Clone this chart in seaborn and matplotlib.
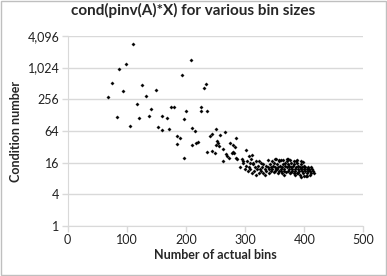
import pandas as pd
import seaborn as sns
import matplotlib.pyplot as plt
from matplotlib.ticker import FixedLocator, FuncFormatter, NullLocator
from matplotlib.patches import Rectangle

# sparse part (small bin counts)
bins_sparse = [68, 75, 83, 87, 94, 99, 106, 110, 117, 121, 126, 133, 137, 141, 149,
               153, 160, 160, 168, 171, 175, 179, 185, 185, 190, 194, 197, 197, 200,
               208, 210, 210, 216, 217, 220, 226, 226, 231, 234, 235, 236, 241, 244,
               244, 249, 250, 251, 252, 254, 256, 258, 263, 263, 266, 267, 269, 272,
               275, 277, 280, 280, 282, 283, 285, 285, 287, 292, 294, 296, 297, 300,
               302, 304, 306, 308, 310, 312, 314, 318, 323]
cond_sparse = [280, 518, 119, 967, 364, 1188, 79, 2850, 212, 112, 480, 297, 125, 166, 391,
               77, 124, 68, 112, 71, 181, 181, 52, 36, 47, 744, 107, 20, 156,
               1450, 72, 35, 63, 37, 39, 186, 156, 427, 495, 25, 152, 51, 55,
               27, 24, 34, 71, 41, 37, 33, 53, 29, 17, 62, 23, 21, 20,
               37, 24, 35, 25, 24, 32, 47, 20, 19, 13, 19, 16, 17, 12,
               28, 17, 21, 16, 19, 22, 16, 17, 17]

# dense part (large bin counts)
bins_dense = [302, 305, 307, 309, 311, 313, 315, 317, 318, 320, 322, 323, 325, 326, 327,
              329, 330, 331, 333, 334, 335, 336, 338, 339, 340, 341, 342, 343, 344, 345,
              346, 347, 348, 349, 350, 351, 352, 353, 354, 355, 356, 357, 358, 359, 360,
              361, 362, 363, 364, 365, 366, 367, 368, 369, 370, 371, 372, 373, 374, 375,
              376, 377, 378, 379, 380, 381, 382, 383, 384, 385, 386, 387, 388, 389, 390,
              391, 392, 393, 394, 395, 396, 397, 398, 399, 400, 401, 402, 403, 404, 405,
              406, 407, 408, 409, 410, 411, 412, 413, 414, 416, 364, 370, 376, 382, 388,
              394, 398, 350, 358, 372, 386, 395, 400, 405, 390, 384, 378, 366, 360, 354]
cond_dense = [14, 11, 13, 12, 10, 15, 11, 13, 9.5, 12, 14, 10, 12, 16, 11,
              13, 10, 15, 12, 9.5, 14, 11, 13, 18, 12, 10, 15, 13, 11, 17,
              12, 14, 10.5, 16, 13, 11, 19, 12, 15, 10, 13, 17, 11, 14, 12,
              18, 10, 13, 15, 11, 12, 16, 14, 10.5, 13, 17, 11, 15, 12, 14,
              10, 13, 16, 11, 12, 14, 10, 15, 12, 11, 13, 16, 10, 12, 14,
              11, 13, 9.5, 12, 15, 11, 13, 10, 12, 14, 11, 13, 9, 12, 10,
              13, 11, 12, 9.5, 11, 13, 10, 12, 11, 10, 18, 19, 18, 17.5, 18,
              17, 16.5, 19, 18, 19, 17, 8.5, 8.8, 9, 10, 9.5, 10.5, 9.5, 11, 12]

yticks = [1, 4, 16, 64, 256, 1024, 4096]
xticks = [0, 100, 200, 300, 400, 500]

df = pd.DataFrame({'bins': bins_sparse + bins_dense, 'cond': cond_sparse + cond_dense})

sns.set_style("white")
plt.rcParams['font.family'] = ['Lato', 'DejaVu Sans']

grid_c = '#d9d9d9'
fig = plt.figure(figsize=(3.87, 2.76), dpi=100)
ax = fig.add_axes([0.175, 0.181, 0.764, 0.689])

sns.scatterplot(data=df, x='bins', y='cond', ax=ax, marker='D', s=3,
                color='black', edgecolor='black', linewidth=0.2, zorder=3)

ax.set_yscale('log', base=2)
ax.set_ylim(1, 4096)
ax.set_xlim(0, 500)
ax.yaxis.set_major_locator(FixedLocator(yticks))
ax.yaxis.set_minor_locator(NullLocator())
ax.yaxis.set_major_formatter(FuncFormatter(lambda v, p: f"{int(round(v)):,}"))
ax.set_xticks(xticks)

ax.grid(axis='y', color=grid_c, linewidth=1.0)
ax.set_axisbelow(True)
for s in ['top', 'right']:
    ax.spines[s].set_visible(False)
ax.spines['left'].set_color(grid_c)
ax.spines['bottom'].set_color(grid_c)
ax.tick_params(axis='both', which='major', direction='out', length=4, width=1,
               color=grid_c, labelsize=9, labelcolor='#222222', pad=2,
               bottom=True, left=True)

ax.set_xlabel('Number of actual bins', fontsize=9, fontweight='bold', labelpad=2)
ax.set_ylabel('Condition number', fontsize=9, fontweight='bold', labelpad=4)
fig.suptitle('cond(pinv(A)*X) for various bin sizes', fontsize=11, fontweight='bold',
             x=0.5, y=0.99)

fig.patches.append(Rectangle((0.002, 0.003), 0.995, 0.994, transform=fig.transFigure,
                             fill=False, edgecolor='#bfbfbf', linewidth=1))

fig.savefig('out.png', dpi=100)
